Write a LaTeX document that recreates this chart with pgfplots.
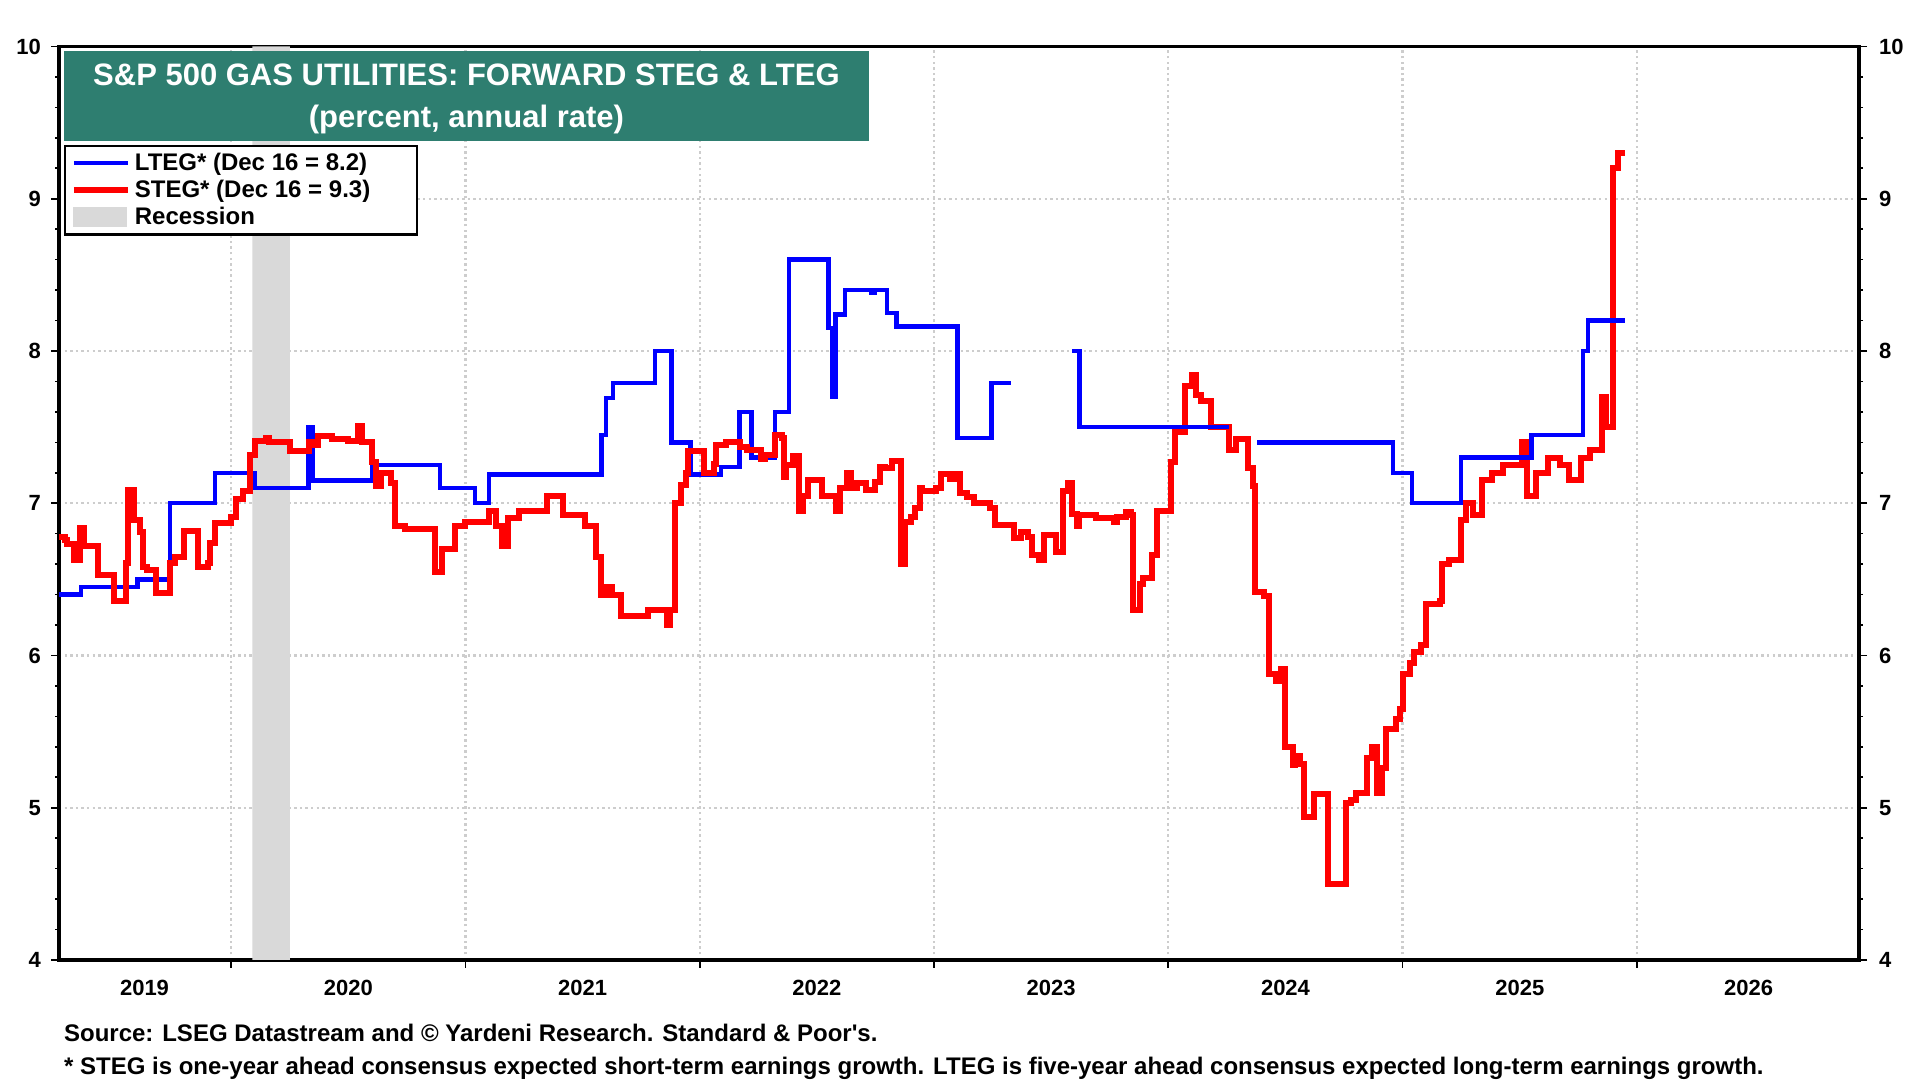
\documentclass[border=0pt]{standalone}
\usepackage{fontspec}
\setmainfont{Liberation Sans}
\usepackage{pgfplots}
\pgfplotsset{compat=1.18}
\definecolor{titlegreen}{RGB}{46,126,112}
\definecolor{recgray}{RGB}{217,217,217}
\definecolor{gridgray}{RGB}{205,205,205}
\definecolor{ltegblue}{RGB}{0,0,255}
\definecolor{stegred}{RGB}{255,0,0}

\begin{document}
\begin{tikzpicture}
\path[use as bounding box] (-29.5pt,-60pt) rectangle (930.5pt,480pt);
\begin{axis}[
  at={(0pt,0pt)}, anchor=south west,
  scale only axis, width=900pt, height=456.75pt,
  xmin=2019.265, xmax=2026.948, ymin=4, ymax=10,
  axis line style={line width=1.6pt},
  tick style={black, line width=0.8pt},
  tick align=outside,
  major tick length=4pt, minor tick length=2pt,
  xtick={2020,...,2026}, xticklabels={},
  xtick pos=bottom, ytick pos=left,
  ytick={4,...,10}, minor y tick num=4,
  grid=major,
  major grid style={gridgray, line width=1.2pt, dash pattern=on 1.2pt off 1.6pt},
  extra x ticks={2019.63,2020.5,2021.5,2022.5,2023.5,2024.5,2025.5,2026.477},
  extra x tick labels={2019,2020,2021,2022,2023,2024,2025,2026},
  extra x tick style={grid=none, major tick length=0pt},
  ticklabel style={font=\fontsize{11}{13}\selectfont\bfseries},
  xticklabel style={yshift=-6.5pt},
  yticklabel style={xshift=-1.5pt},
  /pgf/number format/assume math mode=true,
  /pgf/number format/set thousands separator={},
  legend style={at={(0.0026,0.8927)}, anchor=north west, draw=black,
    line width=1.2pt, font=\fontsize{12}{14}\selectfont\bfseries,
    inner xsep=3pt, inner ysep=1.5pt, row sep=-0.6pt},
  legend cell align=left,
  legend image code/.code={\draw[#1] (0pt,0pt) -- (27pt,0pt);},
]
% recession
\addplot [fill=recgray, draw=none, forget plot] coordinates
  {(2020.09,4) (2020.09,10) (2020.25,10) (2020.25,4)} \closedcycle;

% LTEG
\addplot [const plot, ltegblue, line width=2.2pt] coordinates {
(2019.265,6.40) (2019.36,6.45) (2019.60,6.50) (2019.74,7.00) (2019.93,7.20)
(2020.10,7.10) (2020.33,7.50) (2020.35,7.15) (2020.60,7.25) (2020.89,7.10)
(2021.04,7.00) (2021.10,7.19) (2021.58,7.45) (2021.60,7.69) (2021.63,7.79)
(2021.81,8.00) (2021.88,7.40) (2021.96,7.19) (2022.09,7.24) (2022.17,7.60)
(2022.22,7.30) (2022.32,7.60) (2022.38,8.60) (2022.55,8.15) (2022.565,7.70)
(2022.58,8.24) (2022.62,8.40) (2022.73,8.38) (2022.745,8.40) (2022.80,8.25)
(2022.84,8.16) (2023.10,7.43) (2023.245,7.79) (2023.33,7.79)
};
\addlegendentry{\makebox[136pt][l]{LTEG* (Dec 16 = 8.2)}}
% STEG
\addplot [const plot, stegred, line width=3pt] coordinates {
(2019.265,6.78) (2019.29,6.76) (2019.30,6.73) (2019.33,6.63) (2019.355,6.84)
(2019.37,6.72) (2019.43,6.53) (2019.50,6.36) (2019.55,6.61) (2019.56,7.09)
(2019.585,6.89) (2019.61,6.81) (2019.625,6.58) (2019.64,6.56) (2019.68,6.41)
(2019.74,6.61) (2019.76,6.65) (2019.80,6.82) (2019.86,6.58) (2019.90,6.61)
(2019.91,6.74) (2019.93,6.87) (2020.00,6.91) (2020.02,7.03) (2020.05,7.08)
(2020.08,7.32) (2020.10,7.41) (2020.15,7.43) (2020.16,7.40) (2020.25,7.34)
(2020.33,7.40) (2020.345,7.38) (2020.37,7.44) (2020.43,7.42) (2020.50,7.41)
(2020.54,7.51) (2020.56,7.40) (2020.60,7.27) (2020.62,7.11) (2020.64,7.20)
(2020.68,7.13) (2020.70,6.85) (2020.74,6.83) (2020.87,6.55) (2020.90,6.70)
(2020.955,6.85) (2021.00,6.88) (2021.10,6.95) (2021.13,6.85) (2021.155,6.72)
(2021.18,6.90) (2021.23,6.95) (2021.35,7.05) (2021.415,6.92) (2021.51,6.85)
(2021.555,6.65) (2021.58,6.40) (2021.605,6.45) (2021.625,6.40) (2021.665,6.26)
(2021.78,6.30) (2021.86,6.20) (2021.875,6.30) (2021.895,7.00) (2021.92,7.12)
(2021.94,7.20) (2021.95,7.34) (2022.02,7.20) (2022.06,7.26) (2022.07,7.38)
(2022.11,7.40) (2022.17,7.37) (2022.20,7.35) (2022.26,7.29) (2022.28,7.32)
(2022.32,7.45) (2022.35,7.43) (2022.36,7.17) (2022.37,7.25) (2022.40,7.31)
(2022.425,6.95) (2022.44,7.05) (2022.46,7.15) (2022.52,7.05) (2022.58,6.95)
(2022.60,7.10) (2022.63,7.20) (2022.645,7.10) (2022.67,7.13) (2022.71,7.09)
(2022.75,7.14) (2022.77,7.24) (2022.79,7.23) (2022.82,7.28) (2022.86,6.60)
(2022.875,6.88) (2022.90,6.91) (2022.92,6.97) (2022.94,7.10) (2022.95,7.08)
(2023.01,7.10) (2023.03,7.19) (2023.07,7.16) (2023.09,7.19) (2023.11,7.07)
(2023.14,7.04) (2023.17,7.00) (2023.24,6.97) (2023.26,6.86) (2023.34,6.77)
(2023.37,6.81) (2023.40,6.78) (2023.42,6.66) (2023.45,6.63) (2023.47,6.79)
(2023.52,6.68) (2023.55,7.08) (2023.57,7.13) (2023.59,6.93) (2023.61,6.85)
(2023.62,6.92) (2023.69,6.90) (2023.77,6.88) (2023.78,6.91) (2023.82,6.94)
(2023.84,6.92) (2023.85,6.30) (2023.88,6.47) (2023.89,6.51) (2023.93,6.66)
(2023.95,6.95) (2024.01,7.27) (2024.03,7.47) (2024.07,7.77) (2024.10,7.84)
(2024.12,7.71) (2024.14,7.67) (2024.18,7.50) (2024.26,7.35) (2024.29,7.42)
(2024.34,7.23) (2024.36,7.11) (2024.37,6.42) (2024.41,6.39) (2024.43,5.88)
(2024.46,5.83) (2024.48,5.91) (2024.50,5.40) (2024.53,5.28) (2024.54,5.34)
(2024.56,5.29) (2024.58,4.94) (2024.62,5.09) (2024.68,4.50) (2024.76,5.03)
(2024.78,5.05) (2024.80,5.10) (2024.85,5.33) (2024.87,5.40) (2024.89,5.10)
(2024.91,5.26) (2024.93,5.52) (2024.97,5.58) (2024.99,5.65) (2025.00,5.88)
(2025.03,5.95) (2025.05,6.02) (2025.08,6.07) (2025.10,6.34) (2025.16,6.36)
(2025.17,6.60) (2025.20,6.63) (2025.25,6.89) (2025.27,7.00) (2025.30,6.92)
(2025.34,7.15) (2025.38,7.20) (2025.43,7.25) (2025.51,7.40) (2025.53,7.05)
(2025.57,7.20) (2025.62,7.30) (2025.67,7.25) (2025.71,7.15) (2025.76,7.30)
(2025.80,7.35) (2025.85,7.70) (2025.87,7.50) (2025.90,9.20) (2025.92,9.30)
(2025.95,9.30)
};
\addlegendentry{STEG* (Dec 16 = 9.3)}
\addlegendimage{legend image code/.code={\fill[recgray] (0pt,-4.5pt) rectangle (26pt,4.5pt);}}
\addlegendentry{Recession}

\addplot [const plot, ltegblue, line width=2.2pt, forget plot] coordinates {
(2023.59,8.00) (2023.62,7.50) (2024.26,7.50)
};
\addplot [const plot, ltegblue, line width=2.2pt, forget plot] coordinates {
(2024.38,7.40) (2024.96,7.20) (2025.04,7.00) (2025.25,7.30) (2025.55,7.45)
(2025.77,8.00) (2025.79,8.20) (2025.95,8.20)
};
\end{axis}

\begin{axis}[
  at={(0pt,0pt)}, anchor=south west,
  scale only axis, width=900pt, height=456.75pt,
  xmin=2019.265, xmax=2026.948, ymin=4, ymax=10,
  axis y line*=right, hide x axis,
  axis line style={line width=1.6pt},
  tick style={black, line width=0.8pt},
  tick align=outside,
  major tick length=4pt, minor tick length=2pt,
  ytick={4,...,10}, minor y tick num=4,
  ticklabel style={font=\fontsize{11}{13}\selectfont\bfseries},
  yticklabel style={xshift=2.5pt},
  /pgf/number format/assume math mode=true,
]
\end{axis}

\fill[titlegreen] (2.35pt,454.3pt) rectangle (405pt,409.5pt);
\node[anchor=base, text=white, font=\fontsize{15.5}{18}\selectfont\bfseries]
  at (203.7pt,437.2pt) {S\&P 500 GAS UTILITIES: FORWARD STEG \& LTEG};
\node[anchor=base, text=white, font=\fontsize{15.5}{18}\selectfont\bfseries]
  at (203.7pt,416pt) {(percent, annual rate)};

\node[anchor=base west, inner sep=0pt, font=\fontsize{12}{14}\selectfont\bfseries]
  at (2.35pt,-41pt) {Source: LSEG Datastream and © Yardeni Research. Standard \& Poor\textquotesingle s.};
\node[anchor=base west, inner sep=0pt, font=\fontsize{12}{14}\selectfont\bfseries]
  at (2.35pt,-57pt) {* STEG is one-year ahead consensus expected short-term earnings growth. LTEG is five-year ahead consensus expected long-term earnings growth.};
\end{tikzpicture}
\end{document}
